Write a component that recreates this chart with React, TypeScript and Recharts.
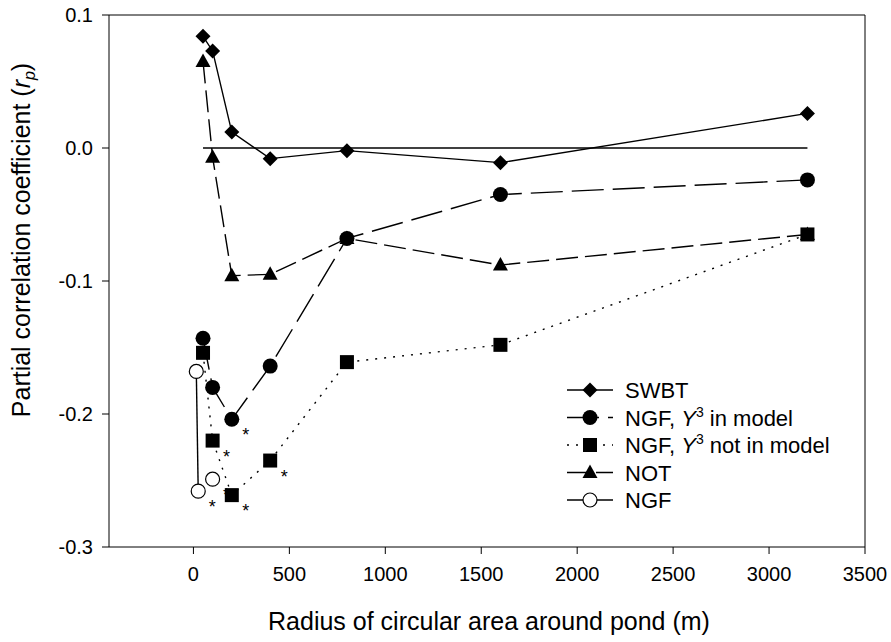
import React from "react";
import { ScatterChart, Scatter, XAxis, YAxis, Legend, ReferenceLine } from "recharts";

const FONT = '"Liberation Sans", Arial, sans-serif';

// radius of circular area (m)
const radius = [50, 100, 200, 400, 800, 1600, 3200];

const swbt = [0.084, 0.073, 0.012, -0.008, -0.002, -0.011, 0.026];

const ngfY3In = [-0.143, -0.18, -0.204, -0.164, -0.068, -0.035, -0.024];
const ngfY3InSig = [false, false, true, false, false, false, false];

const ngfY3Not = [-0.154, -0.22, -0.261, -0.235, -0.161, -0.148, -0.065];
const ngfY3NotSig = [false, true, true, true, false, false, false];

const notValues = [0.065, -0.007, -0.096, -0.095, -0.068, -0.088, -0.065];

const ngfRadius = [15, 25];
const ngfValues = [-0.168, -0.258];
const ngfSig = [false, true];
const ngfLoneRadius = [100];
const ngfLoneValues = [-0.249];
const ngfLoneSig = [true];

const zeroLineRadius = [50, 3200];
const zeroLineValues = [0, 0];

const xTicks = [0, 500, 1000, 1500, 2000, 2500, 3000, 3500];
const yTicks = [-0.3, -0.2, -0.1, 0, 0.1];

type Pt = { x: number; y: number; sig: boolean };
const toPoints = (xs: number[], ys: number[], sig?: boolean[]): Pt[] =>
  xs.map((x, i) => ({ x, y: ys[i], sig: sig ? sig[i] : false }));

type Kind = "diamond" | "circle" | "square" | "triangle" | "open";

function marker(kind: Kind, cx: number, cy: number) {
  switch (kind) {
    case "diamond":
      return <polygon points={`${cx},${cy - 7.5} ${cx + 7.5},${cy} ${cx},${cy + 7.5} ${cx - 7.5},${cy}`} fill="#000" />;
    case "circle":
      return <circle cx={cx} cy={cy} r={7.5} fill="#000" />;
    case "square":
      return <rect x={cx - 7} y={cy - 7} width={14} height={14} fill="#000" />;
    case "triangle":
      return <polygon points={`${cx},${cy - 8} ${cx + 7.5},${cy + 5.5} ${cx - 7.5},${cy + 5.5}`} fill="#000" />;
    default:
      return <circle cx={cx} cy={cy} r={7} fill="#fff" stroke="#000" strokeWidth={1.2} />;
  }
}

const shapeOf = (kind: Kind) => (props: any) => {
  const { cx, cy, payload } = props;
  return (
    <g>
      {marker(kind, cx, cy)}
      {payload && payload.sig && (
        <text x={cx + 14} y={cy + 22} fontSize={18} fontFamily={FONT} textAnchor="middle" fill="#000">
          *
        </text>
      )}
    </g>
  );
};

const LINE = { stroke: "#000", strokeWidth: 1.4 };

const legendRows: { kind: Kind; dash?: string; label: React.ReactNode }[] = [
  { kind: "diamond", label: "SWBT" },
  {
    kind: "circle",
    dash: "32 9",
    label: (
      <>
        NGF, <tspan fontStyle="italic">Y</tspan>
        <tspan fontSize={14} dy={-9}>3</tspan>
        <tspan dy={9}>{" in model"}</tspan>
      </>
    ),
  },
  {
    kind: "square",
    dash: "2 7",
    label: (
      <>
        NGF, <tspan fontStyle="italic">Y</tspan>
        <tspan fontSize={14} dy={-9}>3</tspan>
        <tspan dy={9}>{" not in model"}</tspan>
      </>
    ),
  },
  { kind: "triangle", dash: "22 7", label: "NOT" },
  { kind: "open", label: "NGF" },
];

function LegendBox() {
  return (
    <svg width={330} height={145}>
      {legendRows.map((r, i) => {
        const y = 15 + i * 27.5;
        return (
          <g key={i}>
            <line x1={12} x2={58} y1={y} y2={y} {...LINE} strokeDasharray={r.dash} />
            {marker(r.kind, 35, y)}
            <text x={70} y={y + 8} fontSize={22} fontFamily={FONT} fill="#000">
              {r.label}
            </text>
          </g>
        );
      })}
    </svg>
  );
}

export default function App() {
  return (
    <div style={{ position: "absolute", left: 0, top: 0, background: "#fff" }}>
      <ScatterChart width={891} height={642} margin={{ top: 15, right: 26, bottom: 55, left: 49 }}>
        <XAxis
          type="number"
          dataKey="x"
          domain={[-440, 3500]}
          ticks={xTicks}
          allowDataOverflow
          stroke="#000"
          tickSize={7}
          tickMargin={13}
          height={40}
          tick={{ fill: "#000", fontSize: 20, fontFamily: FONT }}
          label={{
            content: () => (
              <text x={489} y={630} textAnchor="middle" fontSize={25} fontFamily={FONT} fill="#000">
                Radius of circular area around pond (m)
              </text>
            ),
          }}
        />
        <YAxis
          type="number"
          dataKey="y"
          domain={[-0.3, 0.1]}
          ticks={yTicks}
          allowDataOverflow
          stroke="#000"
          tickSize={7}
          tickMargin={9}
          width={60}
          tickFormatter={(v: number) => v.toFixed(1)}
          tick={{ fill: "#000", fontSize: 20, fontFamily: FONT }}
          label={{
            content: () => (
              <text
                x={30}
                y={240}
                transform="rotate(-90, 30, 240)"
                textAnchor="middle"
                fontSize={25}
                fontFamily={FONT}
                fill="#000"
              >
                Partial correlation coefficient (<tspan fontStyle="italic">r</tspan>
                <tspan fontStyle="italic" fontSize={16} dy={5}>p</tspan>
                <tspan dy={-5}>)</tspan>
              </text>
            ),
          }}
        />
        <ReferenceLine y={0.1} stroke="#000" />
        <ReferenceLine x={3500} stroke="#000" />
        <Legend
          layout="vertical"
          align="center"
          verticalAlign="middle"
          content={() => <LegendBox />}
          wrapperStyle={{ position: "absolute", left: 555, top: 375, width: 330 }}
        />
        <Scatter
          data={toPoints(zeroLineRadius, zeroLineValues)}
          line={LINE}
          shape={() => <g />}
          isAnimationActive={false}
        />
        <Scatter
          name="NOT"
          data={toPoints(radius, notValues)}
          line={{ ...LINE, strokeDasharray: "22 7" }}
          shape={shapeOf("triangle")}
          isAnimationActive={false}
        />
        <Scatter
          name="SWBT"
          data={toPoints(radius, swbt)}
          line={LINE}
          shape={shapeOf("diamond")}
          isAnimationActive={false}
        />
        <Scatter
          name="NGF, Y3 not in model"
          data={toPoints(radius, ngfY3Not, ngfY3NotSig)}
          line={{ ...LINE, strokeDasharray: "2 7" }}
          shape={shapeOf("square")}
          isAnimationActive={false}
        />
        <Scatter
          name="NGF, Y3 in model"
          data={toPoints(radius, ngfY3In, ngfY3InSig)}
          line={{ ...LINE, strokeDasharray: "32 9" }}
          shape={shapeOf("circle")}
          isAnimationActive={false}
        />
        <Scatter
          name="NGF"
          data={toPoints(ngfRadius, ngfValues, ngfSig)}
          line={LINE}
          shape={shapeOf("open")}
          isAnimationActive={false}
        />
        <Scatter
          name="NGF lone"
          data={toPoints(ngfLoneRadius, ngfLoneValues, ngfLoneSig)}
          shape={shapeOf("open")}
          isAnimationActive={false}
        />
      </ScatterChart>
    </div>
  );
}
